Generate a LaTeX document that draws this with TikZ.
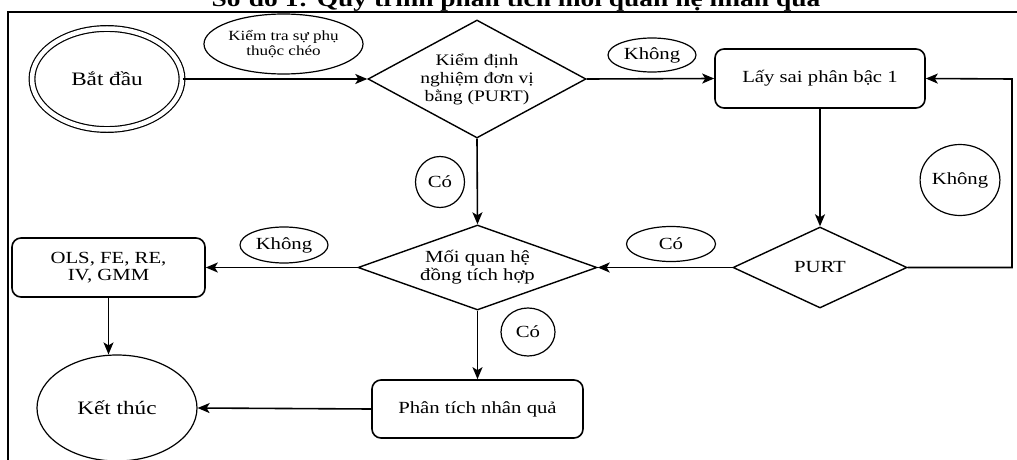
\documentclass[tikz,border=0pt]{standalone}
\usepackage{fontspec}
\setmainfont{Liberation Serif}[FakeStretch=1.22]
\usetikzlibrary{shapes.geometric,arrows.meta}
\newcommand{\fsz}[1]{\fontsize{#1}{#1}\selectfont}
\tikzset{
  lw/.style={line width=1.6pt},
  arr/.style={lw,-{Stealth[length=12pt,width=10pt,inset=3pt]}},
  ell/.style={ellipse,draw,line width=1.2pt,inner sep=0pt,font=\fsz{17}},
  rbox/.style={rectangle,draw,lw,rounded corners=9pt,inner sep=0pt,font=\fsz{17},align=center},
  dia/.style={diamond,draw,line width=1.4pt,inner sep=0pt},
}
\begin{document}
\begin{tikzpicture}[x=1pt,y=-1pt]
\useasboundingbox (0,0) rectangle (1017,460);
\clip (0,0) rectangle (1017,460);
\fill[white] (0,0) rectangle (1017,460);
% title (cut off at the top)
\node[font=\bfseries\fsz{22.5},anchor=base] (title) at (516,7) {Sơ đồ 1: Quy trình phân tích mối quan hệ nhân quả};
% frame
\draw[line width=1.8pt] (1030,12) -- (8,12) -- (8,470);
% nodes
\node[ellipse,draw,line width=1.2pt,double,double distance=4.5pt,minimum width=150pt,minimum height=101pt,inner sep=0pt,font=\fsz{19}] (start) at (107,79) {Bắt đầu};
\node[ell,minimum width=159pt,minimum height=60pt,align=center,font=\fsz{14}] (lab1) at (283.5,44) {Kiểm tra sự phụ\\[1pt]thuộc chéo};
\node[dia,minimum width=218pt,minimum height=118pt,label={[font=\fsz{16},align=center]center:Kiểm định\\[2pt]nghiệm đơn vị\\[2pt]bằng (PURT)}] (d1) at (477,79) {};
\node[ell,minimum width=88pt,minimum height=34pt] (lab2) at (652,55) {Không};
\node[rbox,minimum width=210pt,minimum height=59pt] (box1) at (820,78.5) {Lấy sai phân bậc 1};
\node[dia,minimum width=174pt,minimum height=81pt,label={[font=\fsz{17}]center:PURT}] (d3) at (820,267.5) {};
\node[ell,minimum width=72pt,minimum height=71pt] (lab3) at (960,180) {Không};
\node[ell,minimum width=89pt,minimum height=35pt] (lab4) at (671,244) {Có};
\node[dia,minimum width=239pt,minimum height=85pt,label={[font=\fsz{17},align=center]center:Mối quan hệ\\[1pt]đồng tích hợp}] (d2) at (477.5,267.5) {};
\node[ell,minimum width=49pt,minimum height=51pt] (lab5) at (440,182) {Có};
\node[ell,minimum width=88pt,minimum height=36pt] (lab6) at (284,245) {Không};
\node[rbox,minimum width=193pt,minimum height=59pt] (box2) at (108.5,267.5) {OLS, FE, RE,\\[0pt]IV, GMM};
\node[ell,minimum width=160pt,minimum height=106pt,font=\fsz{19}] (end) at (117,408) {Kết thúc};
\node[ell,minimum width=54pt,minimum height=48pt] (lab7) at (528,332) {Có};
\node[rbox,minimum width=211pt,minimum height=58pt] (box3) at (477.5,409) {Phân tích nhân quả};
\coordinate (rc) at (1012,79);
% connectors
\draw[arr] (start.east) -- (d1.west);
\draw[arr] (d1.east) -- (box1.west);
\draw[arr] (box1.south) -- (d3.north);
\draw[arr] (d3.east) -| (rc) -- (box1.east);
\draw[arr] (d3.west) -- (d2.east);
\draw[arr] (d1.south) -- (d2.north);
\draw[arr] (d2.west) -- (box2.east);
\draw[arr] (box2.south) -- (box2.south |- end.north);
\draw[arr] (d2.south) -- (box3.north);
\draw[arr] (box3.west) -- (end.east);
\end{tikzpicture}
\end{document}
